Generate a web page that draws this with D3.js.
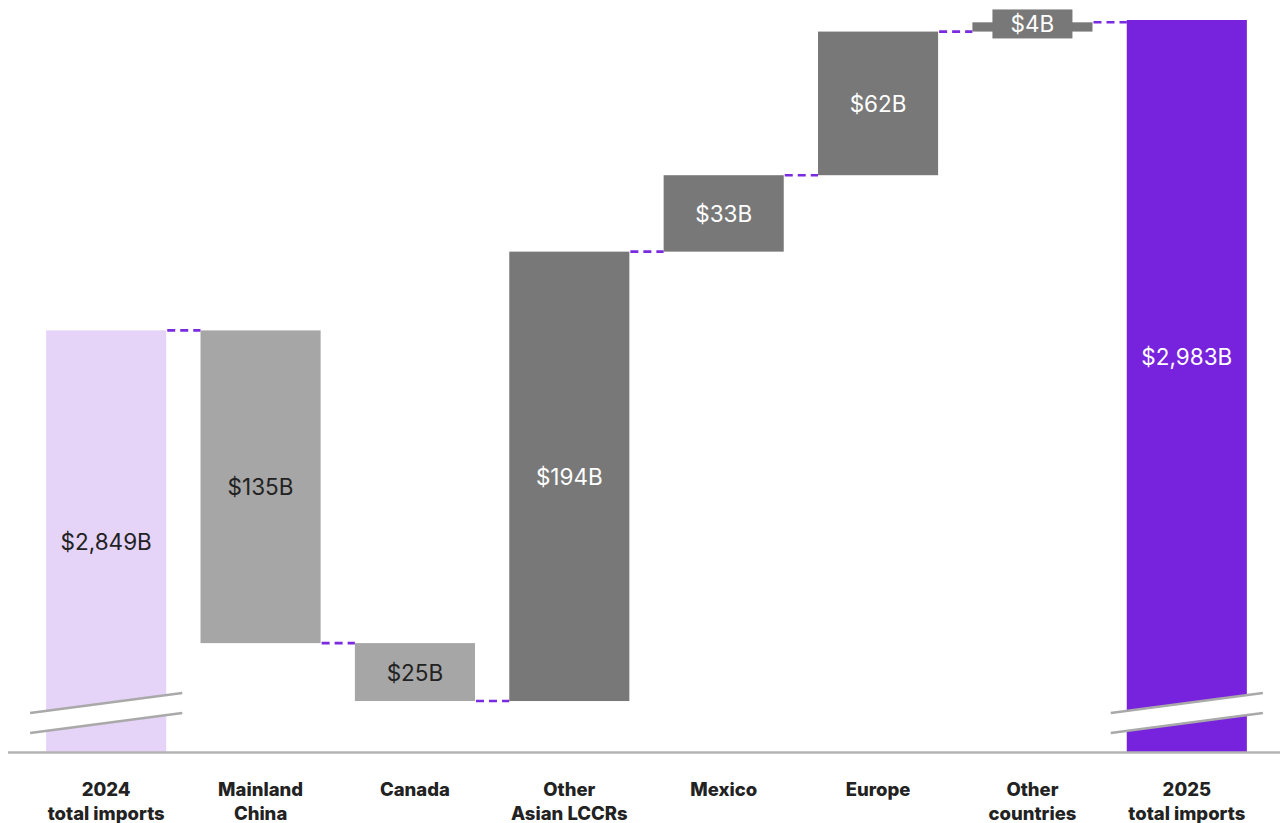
<!DOCTYPE html>
<html>
<head>
<meta charset="utf-8">
<script src="https://cdn.jsdelivr.net/npm/d3@7"></script>
<style>
  html, body { margin: 0; padding: 0; background: #fff; }
  svg { display: block; }
</style>
</head>
<body>
<svg id="chart" width="1287" height="823"></svg>
<script>
// ---- data ----
const categories = [
  ["2024", "total imports"],
  ["Mainland", "China"],
  ["Canada"],
  ["Other", "Asian LCCRs"],
  ["Mexico"],
  ["Europe"],
  ["Other", "countries"],
  ["2025", "total imports"]
];
const kinds = ["start", "decrease", "decrease", "increase", "increase", "increase", "increase", "end"];
const values = [2849, 135, 25, 194, 33, 62, 4, 2983];
const valueLabels = ["$2,849B", "$135B", "$25B", "$194B", "$33B", "$62B", "$4B", "$2,983B"];
const axisFloor = 2667; // value at the broken baseline

// ---- build waterfall ----
let running = 0;
const bars = categories.map((c, i) => {
  const k = kinds[i];
  let y0, y1;
  if (k === "start") { y0 = axisFloor; y1 = values[i]; running = values[i]; }
  else if (k === "end") { y0 = axisFloor; y1 = values[i]; }
  else if (k === "decrease") { y1 = running; y0 = running - values[i]; running = y0; }
  else { y0 = running; y1 = running + values[i]; running = y1; }
  return { i, key: c.join(" "), lines: c, kind: k, y0, y1, label: valueLabels[i] };
});

const colors = {
  start: "#e5d3f8",
  decrease: "#a6a6a6",
  increase: "#787878",
  end: "#7722dd"
};
const textColors = { start: "#222", decrease: "#222", increase: "#fff", end: "#fff" };

const svg = d3.select("#chart");
const baseY = 752;

const x = d3.scaleBand()
  .domain(bars.map(d => d.key))
  .range([29, 1264])
  .paddingInner(0.222)
  .paddingOuter(0.111);

const y = d3.scaleLinear()
  .domain([axisFloor, 2983])
  .range([baseY, 20]);

// connectors
const conn = [];
for (let i = 0; i < bars.length - 1; i++) {
  const a = bars[i], b = bars[i + 1];
  let level;
  if (a.kind === "start") level = a.y1;
  else if (a.kind === "decrease") level = a.y0;
  else level = a.y1;
  conn.push({ x1: x(a.key) + x.bandwidth(), x2: x(b.key), v: level });
}
svg.append("g").selectAll("line").data(conn).join("line")
  .attr("x1", d => d.x1 + 1).attr("x2", d => d.x2)
  .attr("y1", d => y(d.v)).attr("y2", d => y(d.v))
  .attr("stroke", "#7a2be0").attr("stroke-width", 2.6)
  .attr("stroke-dasharray", "8,5");

// bars
svg.append("g").selectAll("rect").data(bars).join("rect")
  .attr("x", d => x(d.key))
  .attr("width", x.bandwidth())
  .attr("y", d => y(d.y1))
  .attr("height", d => y(d.y0) - y(d.y1))
  .attr("fill", d => colors[d.kind]);

// break marks on totals
const brk = bars.filter(d => d.kind === "start" || d.kind === "end");
const bg = svg.append("g");
brk.forEach(d => {
  const xl = x(d.key) - 16, xr = x(d.key) + x.bandwidth() + 16;
  const lift = 20, gap = 20;
  const yl = baseY - 39, yr = yl - lift;
  bg.append("path")
    .attr("d", `M${xl},${yl} L${xr},${yr} L${xr},${yr + gap} L${xl},${yl + gap} Z`)
    .attr("fill", "#fff");
  [0, gap].forEach(o => {
    bg.append("line")
      .attr("x1", xl).attr("y1", yl + o).attr("x2", xr).attr("y2", yr + o)
      .attr("stroke", "#a9a9a9").attr("stroke-width", 2.5);
  });
});

// baseline
svg.append("line")
  .attr("x1", 8).attr("x2", 1280)
  .attr("y1", baseY + 0.5).attr("y2", baseY + 0.5)
  .attr("stroke", "#b3b3b3").attr("stroke-width", 2.5);

// value labels
const lg = svg.append("g");
bars.forEach(d => {
  const cx = x(d.key) + x.bandwidth() / 2;
  let cy;
  if (d.kind === "end") cy = (y(d.y1) + baseY - 59) / 2;
  else cy = (y(d.y1) + y(d.y0)) / 2;
  const small = (y(d.y0) - y(d.y1)) < 30;
  if (small) {
    cy -= 3;
    lg.append("rect")
      .attr("x", cx - 40).attr("y", cy - 14.5)
      .attr("width", 80).attr("height", 29)
      .attr("fill", colors[d.kind]);
  }
  lg.append("text")
    .attr("x", cx).attr("y", cy)
    .attr("text-anchor", "middle")
    .attr("dominant-baseline", "central")
    .attr("font-family", "Inter, Roboto, sans-serif")
    .attr("font-size", 22.5)
    .attr("fill", textColors[d.kind])
    .text(d.label);
});

// category labels (x axis)
const xAxis = d3.axisBottom(x).tickSize(0).tickFormat(() => "");
const ax = svg.append("g").attr("transform", `translate(0,${baseY})`).call(xAxis);
ax.select(".domain").remove();
ax.selectAll(".tick").each(function(k) {
  const d = bars.find(b => b.key === k);
  const t = d3.select(this).select("text")
    .attr("y", 0).attr("dy", null)
    .attr("font-family", "Inter, 'Liberation Sans', sans-serif")
    .attr("font-weight", 800)
    .attr("font-size", 18.5)
    .attr("fill", "#222");
  d.lines.forEach((ln, j) => {
    t.append("tspan").attr("x", 0).attr("y", 44 + j * 24).text(ln);
  });
});
</script>
</body>
</html>
